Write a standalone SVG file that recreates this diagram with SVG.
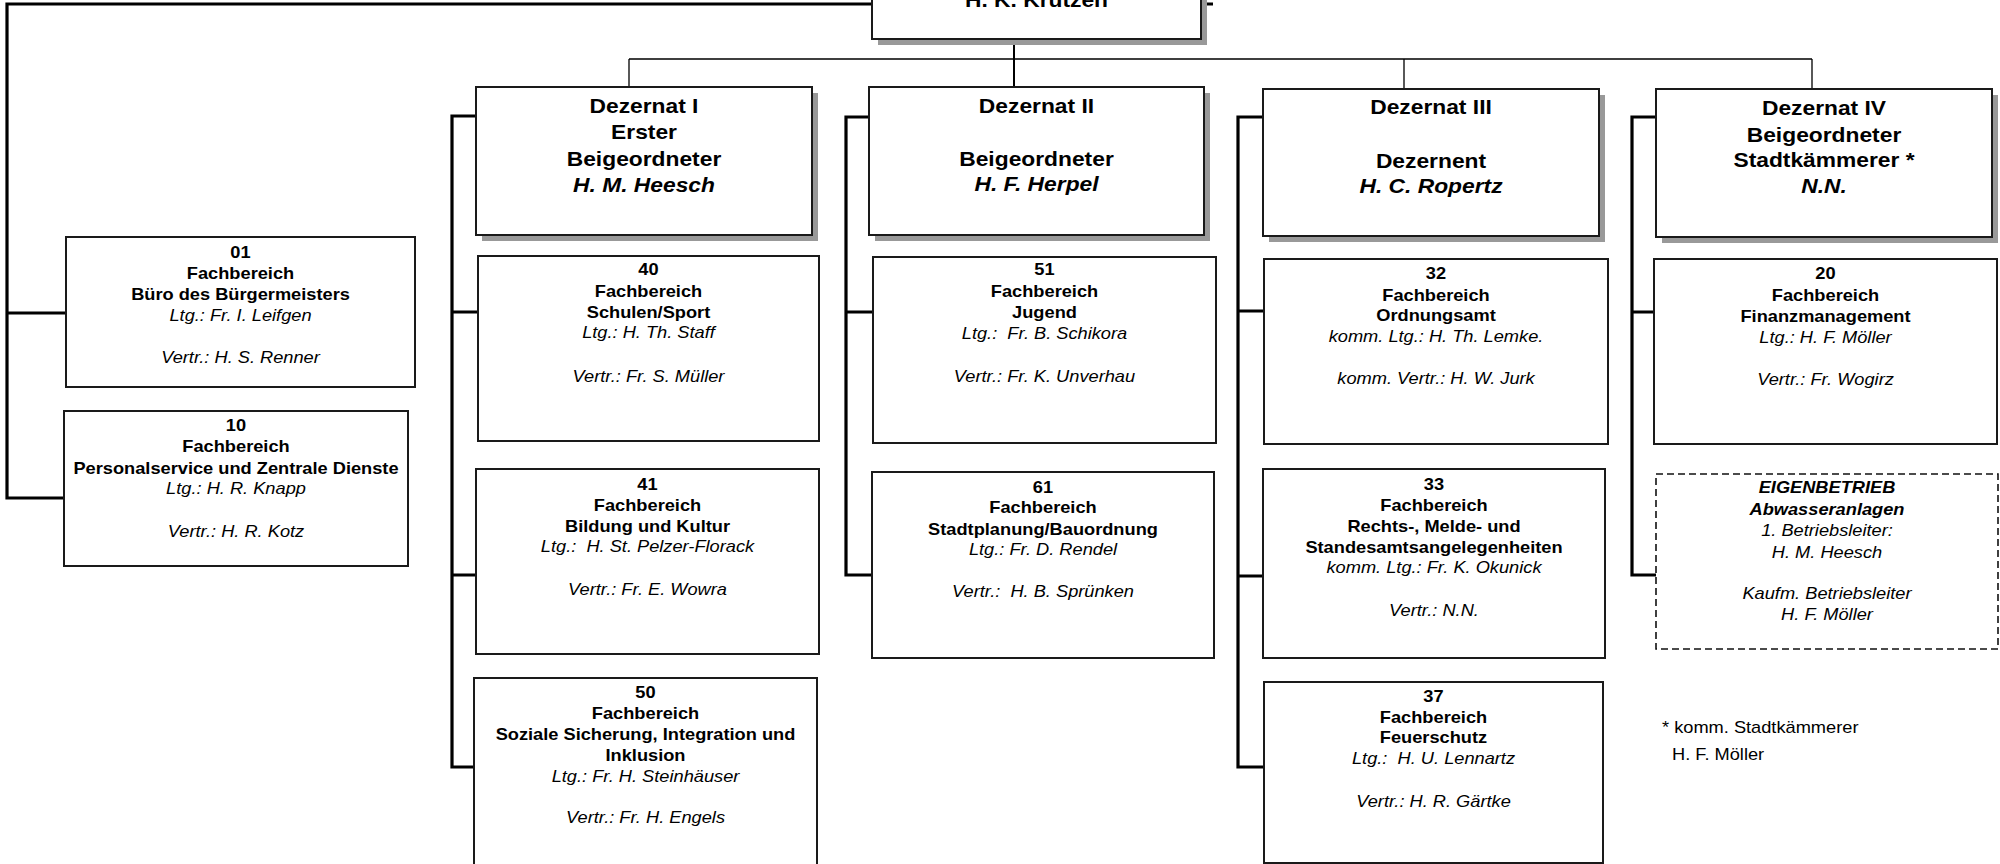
<svg xmlns="http://www.w3.org/2000/svg" width="2000" height="864" viewBox="0 0 2000 864">
<defs>
<style>
.bg{fill:#fff}
.box{fill:#fff;stroke:#1a1a1a;stroke-width:2}
.dash{fill:#fff;stroke:#111;stroke-width:1.6;stroke-dasharray:7 4}
.sh{fill:#999}
.thick{fill:none;stroke:#000;stroke-width:3.2}
.thin{fill:none;stroke:#000;stroke-width:1.3}
.mid{fill:none;stroke:#000;stroke-width:2}
text{font-family:"Liberation Sans",Arial,sans-serif;fill:#000;text-anchor:middle;font-size:16px}
.b{font-weight:bold}
.i{font-style:italic}
.h{font-size:20px;font-weight:bold}
.hi{font-size:20px;font-weight:bold;font-style:italic}
.fn{text-anchor:start}
</style>
</defs>
<rect class="bg" x="0" y="0" width="2000" height="864"/>

<g id="connectors">
<path class="thick" d="M872,4 H7 V498 H64 M7,313 H66 M1201,4 H1213"/>
<path class="thin" d="M629,59 H1812 M629,59 V87 M1404,59 V89 M1812,59 V89"/>
<path class="mid" d="M1014,39 V87"/>
<path class="thick" d="M476,116 H452 V767 H474 M452,312 H478 M452,575 H476"/>
<path class="thick" d="M869,117 H846 V575 H872 M846,312 H873"/>
<path class="thick" d="M1263,117 H1238 V767 H1264 M1238,311 H1264 M1238,576 H1263"/>
<path class="thick" d="M1656,117 H1632 V575 H1656 M1632,312 H1654"/>
</g>

<g id="buergermeister">
<rect class="sh" x="878" y="-14" width="329" height="59"/>
<rect class="box" x="872" y="-20" width="329" height="59"/>
<g transform="translate(1036.5,0) scale(1.14,1)"><text class="h" x="0" y="7">H. K. Krutzen</text></g>
</g>

<g id="dezernat1">
<rect class="sh" x="482" y="93" width="336" height="148"/>
<rect class="box" x="476" y="87" width="336" height="148"/>
<g transform="translate(644,0) scale(1.14,1)">
<text class="h" x="0" y="113">Dezernat I</text>
<text class="h" x="0" y="139">Erster</text>
<text class="h" x="0" y="166">Beigeordneter</text>
<text class="hi" x="0" y="192">H. M. Heesch</text>
</g>
</g>

<g id="dezernat2">
<rect class="sh" x="875" y="93" width="335" height="148"/>
<rect class="box" x="869" y="87" width="335" height="148"/>
<g transform="translate(1036.5,0) scale(1.14,1)">
<text class="h" x="0" y="113">Dezernat II</text>
<text class="h" x="0" y="166">Beigeordneter</text>
<text class="hi" x="0" y="191">H. F. Herpel</text>
</g>
</g>

<g id="dezernat3">
<rect class="sh" x="1269" y="95" width="336" height="147"/>
<rect class="box" x="1263" y="89" width="336" height="147"/>
<g transform="translate(1431,0) scale(1.14,1)">
<text class="h" x="0" y="114">Dezernat III</text>
<text class="h" x="0" y="168">Dezernent</text>
<text class="hi" x="0" y="193">H. C. Ropertz</text>
</g>
</g>

<g id="dezernat4">
<rect class="sh" x="1662" y="95" width="336" height="148"/>
<rect class="box" x="1656" y="89" width="336" height="148"/>
<g transform="translate(1824,0) scale(1.14,1)">
<text class="h" x="0" y="115">Dezernat IV</text>
<text class="h" x="0" y="142">Beigeordneter</text>
<text class="h" x="0" y="167">Stadtkämmerer *</text>
<text class="hi" x="0" y="193">N.N.</text>
</g>
</g>

<g id="fb01">
<rect class="box" x="66" y="237" width="349" height="150"/>
<g transform="translate(240.5,0) scale(1.14,1)">
<text class="b" x="0" y="258">01</text>
<text class="b" x="0" y="279">Fachbereich</text>
<text class="b" x="0" y="300">Büro des Bürgermeisters</text>
<text class="i" x="0" y="321">Ltg.: Fr. I. Leifgen</text>
<text class="i" x="0" y="363">Vertr.: H. S. Renner</text>
</g>
</g>

<g id="fb10">
<rect class="box" x="64" y="411" width="344" height="155"/>
<g transform="translate(236,0) scale(1.14,1)">
<text class="b" x="0" y="431">10</text>
<text class="b" x="0" y="452">Fachbereich</text>
<text class="b" x="0" y="474">Personalservice und Zentrale Dienste</text>
<text class="i" x="0" y="494">Ltg.: H. R. Knapp</text>
<text class="i" x="0" y="537">Vertr.: H. R. Kotz</text>
</g>
</g>

<g id="fb40">
<rect class="box" x="478" y="256" width="341" height="185"/>
<g transform="translate(648.5,0) scale(1.14,1)">
<text class="b" x="0" y="275">40</text>
<text class="b" x="0" y="297">Fachbereich</text>
<text class="b" x="0" y="318">Schulen/Sport</text>
<text class="i" x="0" y="338">Ltg.: H. Th. Staff</text>
<text class="i" x="0" y="382">Vertr.: Fr. S. Müller</text>
</g>
</g>

<g id="fb41">
<rect class="box" x="476" y="469" width="343" height="185"/>
<g transform="translate(647.5,0) scale(1.14,1)">
<text class="b" x="0" y="490">41</text>
<text class="b" x="0" y="511">Fachbereich</text>
<text class="b" x="0" y="532">Bildung und Kultur</text>
<text class="i" x="0" y="552" xml:space="preserve">Ltg.:  H. St. Pelzer-Florack</text>
<text class="i" x="0" y="595">Vertr.: Fr. E. Wowra</text>
</g>
</g>

<g id="fb50">
<rect class="box" x="474" y="678" width="343" height="200"/>
<g transform="translate(645.5,0) scale(1.14,1)">
<text class="b" x="0" y="698">50</text>
<text class="b" x="0" y="719">Fachbereich</text>
<text class="b" x="0" y="740">Soziale Sicherung, Integration und</text>
<text class="b" x="0" y="761">Inklusion</text>
<text class="i" x="0" y="782">Ltg.: Fr. H. Steinhäuser</text>
<text class="i" x="0" y="823">Vertr.: Fr. H. Engels</text>
</g>
</g>

<g id="fb51">
<rect class="box" x="873" y="257" width="343" height="186"/>
<g transform="translate(1044.5,0) scale(1.14,1)">
<text class="b" x="0" y="275">51</text>
<text class="b" x="0" y="297">Fachbereich</text>
<text class="b" x="0" y="318">Jugend</text>
<text class="i" x="0" y="339" xml:space="preserve">Ltg.:  Fr. B. Schikora</text>
<text class="i" x="0" y="382">Vertr.: Fr. K. Unverhau</text>
</g>
</g>

<g id="fb61">
<rect class="box" x="872" y="472" width="342" height="186"/>
<g transform="translate(1043,0) scale(1.14,1)">
<text class="b" x="0" y="493">61</text>
<text class="b" x="0" y="513">Fachbereich</text>
<text class="b" x="0" y="535">Stadtplanung/Bauordnung</text>
<text class="i" x="0" y="555">Ltg.: Fr. D. Rendel</text>
<text class="i" x="0" y="597" xml:space="preserve">Vertr.:  H. B. Sprünken</text>
</g>
</g>

<g id="fb32">
<rect class="box" x="1264" y="259" width="344" height="185"/>
<g transform="translate(1436,0) scale(1.14,1)">
<text class="b" x="0" y="279">32</text>
<text class="b" x="0" y="301">Fachbereich</text>
<text class="b" x="0" y="321">Ordnungsamt</text>
<text class="i" x="0" y="342">komm. Ltg.: H. Th. Lemke.</text>
<text class="i" x="0" y="384">komm. Vertr.: H. W. Jurk</text>
</g>
</g>

<g id="fb33">
<rect class="box" x="1263" y="469" width="342" height="189"/>
<g transform="translate(1434,0) scale(1.14,1)">
<text class="b" x="0" y="490">33</text>
<text class="b" x="0" y="511">Fachbereich</text>
<text class="b" x="0" y="532">Rechts-, Melde- und</text>
<text class="b" x="0" y="553">Standesamtsangelegenheiten</text>
<text class="i" x="0" y="573">komm. Ltg.: Fr. K. Okunick</text>
<text class="i" x="0" y="616">Vertr.: N.N.</text>
</g>
</g>

<g id="fb37">
<rect class="box" x="1264" y="682" width="339" height="181"/>
<g transform="translate(1433.5,0) scale(1.14,1)">
<text class="b" x="0" y="702">37</text>
<text class="b" x="0" y="723">Fachbereich</text>
<text class="b" x="0" y="743">Feuerschutz</text>
<text class="i" x="0" y="764" xml:space="preserve">Ltg.:  H. U. Lennartz</text>
<text class="i" x="0" y="807">Vertr.: H. R. Gärtke</text>
</g>
</g>

<g id="fb20">
<rect class="box" x="1654" y="259" width="343" height="185"/>
<g transform="translate(1825.5,0) scale(1.14,1)">
<text class="b" x="0" y="279">20</text>
<text class="b" x="0" y="301">Fachbereich</text>
<text class="b" x="0" y="322">Finanzmanagement</text>
<text class="i" x="0" y="343">Ltg.: H. F. Möller</text>
<text class="i" x="0" y="385">Vertr.: Fr. Wogirz</text>
</g>
</g>

<g id="eigenbetrieb">
<rect class="dash" x="1656" y="474" width="342" height="175"/>
<g transform="translate(1827,0) scale(1.14,1)">
<text class="b i" x="0" y="493">EIGENBETRIEB</text>
<text class="b i" x="0" y="515">Abwasseranlagen</text>
<text class="i" x="0" y="536">1. Betriebsleiter:</text>
<text class="i" x="0" y="558">H. M. Heesch</text>
<text class="i" x="0" y="599">Kaufm. Betriebsleiter</text>
<text class="i" x="0" y="620">H. F. Möller</text>
</g>
</g>

<g id="footnote">
<g transform="translate(1662,0) scale(1.14,1)"><text class="fn" x="0" y="733">* komm. Stadtkämmerer</text></g>
<g transform="translate(1672,0) scale(1.14,1)"><text class="fn" x="0" y="760">H. F. Möller</text></g>
</g>
</svg>
